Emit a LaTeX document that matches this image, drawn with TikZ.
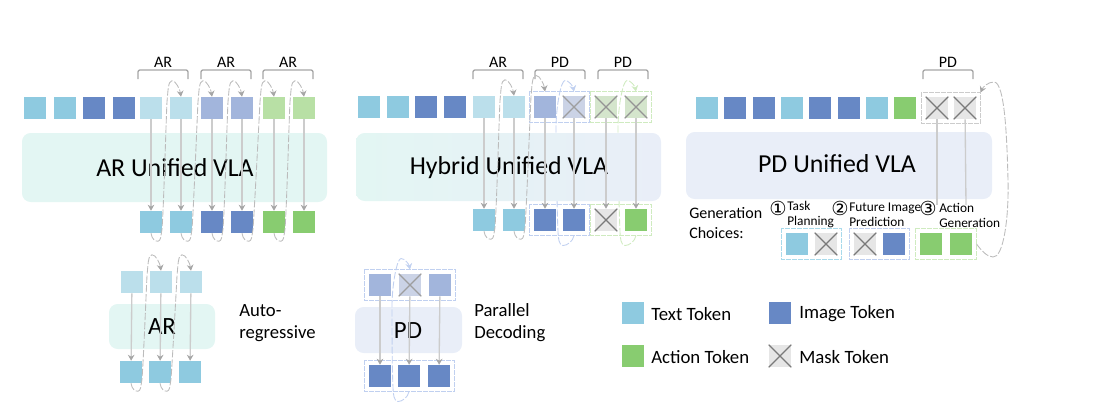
\documentclass[tikz,border=0pt]{standalone}
\usepackage{fontspec}
\setmainfont{Carlito}
\newfontfamily\symfont{DejaVu Sans}
\usetikzlibrary{arrows.meta,fit}
\definecolor{cT}{HTML}{8ECAE0}
\definecolor{cI}{HTML}{6788C5}
\definecolor{cA}{HTML}{88CC70}
\definecolor{cTl}{HTML}{BBDFEB}
\definecolor{cIl}{HTML}{A2B5DC}
\definecolor{cAl}{HTML}{B8E0A5}
\definecolor{cM}{HTML}{E6E6E6}
\definecolor{cMb}{HTML}{CBD3E6}
\definecolor{cMg}{HTML}{D4E5CC}
\definecolor{xM}{HTML}{7A7A7A}
\definecolor{xMb}{HTML}{9E9E9E}
\definecolor{xMg}{HTML}{949494}
\definecolor{bAR}{HTML}{E3F6F3}
\definecolor{bPD}{HTML}{E9EEF8}
\definecolor{lnG}{HTML}{BCBCBC}
\definecolor{lnH}{HTML}{A6A6A6}
\definecolor{lnA}{HTML}{CCCCCC}
\definecolor{grpB}{HTML}{C0D0F0}
\definecolor{grpG}{HTML}{CFEBC0}
\definecolor{grpY}{HTML}{CCCCCC}
\definecolor{grpC}{HTML}{A8DAEB}
\tikzset{
 token/.style={minimum size=16.5pt,inner sep=0pt},
 tT/.style={fill=cT},
 tI/.style={fill=cI},
 tA/.style={fill=cA},
 tTl/.style={fill=cTl},
 tIl/.style={fill=cIl},
 tAl/.style={fill=cAl},
 tM/.style={fill=cM},
 tMb/.style={fill=cMb},
 tMg/.style={fill=cMg},
 xline/.style={line width=1pt},
 vbox/.style={rounded corners=6.5pt,inner sep=0pt,draw=none},
 bigtxt/.style={font=\fontsize{19.4}{24}\selectfont,inner sep=0pt},
 subtxt/.style={font=\fontsize{18.6}{22}\selectfont,inner sep=0pt},
 lab/.style={font=\fontsize{12}{14}\selectfont,inner sep=0pt},
 leg/.style={font=\fontsize{14.1}{16}\selectfont,inner sep=0pt,anchor=west},
 side/.style={font=\fontsize{14}{16.5}\selectfont,inner sep=0pt,anchor=west,align=left},
 gen/.style={font=\fontsize{12}{15}\selectfont,inner sep=0pt,anchor=west,align=left},
 small/.style={font=\fontsize{10}{11.25}\selectfont,inner sep=0pt,anchor=west,align=left},
 num/.style={font=\symfont\fontsize{14.5}{16}\selectfont,inner sep=0pt},
 brk/.style={draw=lnH,line width=1pt,rounded corners=1.5pt},
 flow/.style={draw=lnA,line width=1pt,-{Stealth[length=4.5pt,width=5pt,color=lnH]}},
 plainflow/.style={draw=lnA,line width=1pt},
 arcline/.style={draw=lnG,line width=.65pt,dash pattern=on 5.5pt off 1.5pt,-{Stealth[length=4.5pt,width=5pt,color=lnH]}},
 grp/.style={inner sep=3pt},
 grpline/.style={line width=1.25pt,dash pattern=on 3.2pt off 1.3pt},
}
\newcommand\tkn[4]{\node[token,#4] (#1) at ({#2+11},{#3+11}) {};}
\newcommand\tkx[5]{\node[token,#4] (#1) at ({#2+11},{#3+11}) {}; \draw[xline,draw=#5] (#1.north west) -- (#1.south east) (#1.north east) -- (#1.south west);}
\newcommand\brkt[4]{\draw[brk] (#1,79) -- (#1,70) -- (#2,70) -- (#2,79); \node[lab] (#4) at ({(#1+#2)/2},62) {#3};}
\newcommand\grpbox[4]{\node[grp,fit=(#2)(#3)] (#1) {}; \draw[grpline,draw=#4] (#1.north west) rectangle (#1.south east);}
\newcommand\longarc[3][]{\draw[arcline,#1] (#2) .. controls +(1,6) and +(-3,0) .. ([shift={(7,8)}]#2) .. controls +(3,0) and +(-1,5) .. ([shift={(11,-4)}]#2) .. controls +(2,-30) and +(-1,20) .. ([shift={(-14,5)}]#3) .. controls +(1,-10) and +(-4,0) .. ([shift={(-9,-16)}]#3) .. controls +(4,0) and +(-1,-7) .. (#3);}
\newcommand\selfarc[3][]{\draw[arcline,#1] (#2) .. controls +(-1,6) and +(4,0) .. ([shift={(-11,10)}]#2) .. controls +(-4,0) and +(0,6) .. ([shift={(-16,-4)}]#2) .. controls +(-1,-20) and +(0,20) .. ([shift={(-18,37)}]#3) .. controls +(0,-22) and +(-4,0) .. ([shift={(-9,-11)}]#3) .. controls +(4,0) and +(-1,-5) .. (#3);}
\begin{document}
\begin{tikzpicture}[x=.75pt,y=-.75pt]
\useasboundingbox (0,0) rectangle (1104,405);
% ---- Panel 1
\node[vbox,fill=bAR,minimum width=228.75pt,minimum height=51.75pt] (boxA) at (174.5,167.5) {};
\tkn{a1}{24}{97}{tT}\tkn{a2}{54}{97}{tT}\tkn{a3}{83}{97}{tI}\tkn{a4}{113}{97}{tI}
\tkn{a5}{140}{97}{tTl}\tkn{a6}{170}{97}{tTl}\tkn{a7}{201}{97}{tIl}\tkn{a8}{231}{97}{tIl}\tkn{a9}{263}{97}{tAl}\tkn{a10}{293}{97}{tAl}
\tkn{ab5}{140}{211}{tT}\tkn{ab6}{170}{211}{tT}\tkn{ab7}{201}{211}{tI}\tkn{ab8}{231}{211}{tI}\tkn{ab9}{263}{211}{tA}\tkn{ab10}{293}{211}{tA}
\brkt{138}{188}{AR}{la1}\brkt{201}{251}{AR}{la2}\brkt{263}{313}{AR}{la3}
\node[bigtxt] (ta) at (175,168) {AR Unified VLA};
\foreach \i in {5,...,10} {\draw[flow] (a\i) -- (ab\i);}
\longarc{ab5.south}{a6.north}\longarc{ab6.south}{a7.north}\longarc{ab7.south}{a8.north}\longarc{ab8.south}{a9.north}\longarc{ab9.south}{a10.north}
% ---- Panel 2
\tkn{h1}{358}{96}{tT}\tkn{h2}{387}{96}{tT}\tkn{h3}{415}{96}{tI}\tkn{h4}{444}{96}{tI}
\tkn{h5}{473}{96}{tTl}\tkn{h6}{503}{96}{tTl}\tkn{h7}{534}{96}{tIl}\tkx{h8}{563}{96}{tMb}{xMb}\tkx{h9}{595}{96}{tMg}{xMg}\tkx{h10}{625}{96}{tMg}{xMg}
\tkn{hb5}{473}{209}{tT}\tkn{hb6}{503}{209}{tT}\tkn{hb7}{534}{209}{tI}\tkn{hb8}{563}{209}{tI}\tkx{hb9}{595}{209}{tM}{xM}\tkn{hb10}{625}{209}{tA}
\grpbox{gh1}{h7}{h8}{grpB}
\grpbox{gh2}{h9}{h10}{grpG}
\grpbox{gh3}{hb7}{hb8}{grpB}
\grpbox{gh4}{hb9}{hb10}{grpG}
\coordinate (h7t) at (h7 |- gh1.north);
\coordinate (h8t) at (h8 |- gh1.north);
\coordinate (h10t) at (h10 |- gh2.north);
\coordinate (hb8b) at (hb8 |- gh3.south);
\coordinate (hb10b) at (hb10 |- gh4.south);
\selfarc[draw=grpB,-{Stealth[length=4.5pt,width=5pt,color=grpB]}]{hb8b}{h8t}
\selfarc[draw=grpG,-{Stealth[length=4.5pt,width=5pt,color=grpG]}]{hb10b}{h10t}
\node[vbox,left color=bAR,right color=bPD,minimum width=228.75pt,minimum height=51pt] (boxH) at (508.5,167) {};
\brkt{473}{523}{AR}{lh1}\brkt{535}{585}{PD}{lh2}\brkt{598}{648}{PD}{lh3}
\node[bigtxt] (th) at (509,168) {Hybrid Unified VLA};
\foreach \i in {5,...,10} {\draw[flow] (h\i) -- (hb\i);}
\longarc{hb5.south}{h6.north}\longarc{hb6.south}{h7t}
% ---- Panel 3
\node[vbox,fill=bPD,minimum width=229.5pt,minimum height=50.25pt] (boxP) at (839,165.5) {};
\tkn{p1}{696}{97}{tT}\tkn{p2}{724}{97}{tI}\tkn{p3}{753}{97}{tI}\tkn{p4}{781}{97}{tT}\tkn{p5}{809}{97}{tI}\tkn{p6}{838}{97}{tI}\tkn{p7}{866}{97}{tT}\tkn{p8}{894}{97}{tA}\tkx{p9}{926}{97}{tM}{xM}\tkx{p10}{954}{97}{tM}{xM}
\grpbox{gp}{p9}{p10}{grpY}
\brkt{923}{973}{PD}{lp}
\node[bigtxt] (tp) at (837,164) {PD Unified VLA};
\coordinate (e9) at (937,205);
\coordinate (e10) at (966,205);
\draw[plainflow] (p9) -- (e9);
\draw[plainflow] (p10) -- (e10);
\node[gen] (gc) at (689,223) {Generation\\Choices:};
\node[num] (n1) at (778,208) {①};
\node[num] (n2) at (840,208) {②};
\node[num] (n3) at (928,208) {③};
\node[small] (s1) at (787,215) {Task\\Planning};
\node[small] (s2) at (849,215) {Future Image\\Prediction};
\node[small] (s3) at (939,215) {Action\\Generation};
\tkn{c1}{786}{233}{tT}\tkx{c2}{815}{233}{tM}{xM}\tkx{c3}{854}{233}{tM}{xM}\tkn{c4}{883}{233}{tI}\tkn{c5}{920}{233}{tA}\tkn{c6}{950}{233}{tA}
\grpbox{gc1}{c1}{c2}{grpC}
\grpbox{gc2}{c3}{c4}{grpB}
\grpbox{gc3}{c5}{c6}{grpG}
\draw[arcline] (gc3.east) .. controls (981,250) and (987,257) .. (993,257) .. controls (1003,258) and (1009,220) .. (1008,180) .. controls (1007,140) and (1005,82) .. (994,82) .. controls (988,82) and (983,87) .. (gp.north east);
% ---- AR sub
\node[vbox,fill=bAR,minimum width=79.5pt,minimum height=33.75pt] (boxS) at (162,326.5) {};
\tkn{s1a}{121}{271}{tTl}\tkn{s2a}{150}{271}{tTl}\tkn{s3a}{180}{271}{tTl}
\tkn{s1b}{120}{361}{tT}\tkn{s2b}{149}{361}{tT}\tkn{s3b}{179}{361}{tT}
\node[subtxt] (ts) at (162,327) {AR};
\foreach \i in {1,2,3} {\draw[flow] (s\i a) -- (s\i b);}
\longarc{s1b.south}{s2a.north}\longarc{s2b.south}{s3a.north}
\node[side] (ts2) at (239,323) {Auto-\\regressive};
% ---- PD sub
\node[vbox,fill=bPD,minimum width=80.25pt,minimum height=34.5pt] (boxD) at (408.5,330) {};
\tkn{d1a}{369}{274}{tIl}\tkx{d2a}{399}{274}{tMb}{xMb}\tkn{d3a}{429}{274}{tIl}
\tkn{d1b}{369}{365}{tI}\tkn{d2b}{398}{365}{tI}\tkn{d3b}{428}{365}{tI}
\grpbox{gd1}{d1a}{d3a}{grpB}
\grpbox{gd2}{d1b}{d3b}{grpB}
\node[subtxt] (td) at (408,331) {PD};
\foreach \i in {1,2,3} {\draw[flow] (d\i a) -- (d\i b);}
\coordinate (d2t) at (d2a |- gd1.north);
\coordinate (d2e) at (d2b |- gd2.south);
\selfarc[draw=grpB,-{Stealth[length=4.5pt,width=5pt,color=grpB]}]{d2e}{d2t}
\node[side] (td2) at (474,323) {Parallel\\Decoding};
% ---- Legend
\tkn{k1}{622}{302}{tT}\tkn{k2}{769}{302}{tI}\tkn{k3}{622}{345}{tA}\tkx{k4}{769}{345}{tM}{xM}
\node[leg] (kt1) at (651,314) {Text Token};
\node[leg] (kt2) at (799,314) {Image Token};
\node[leg] (kt3) at (651,357) {Action Token};
\node[leg] (kt4) at (799,357) {Mask Token};
\end{tikzpicture}
\end{document}
